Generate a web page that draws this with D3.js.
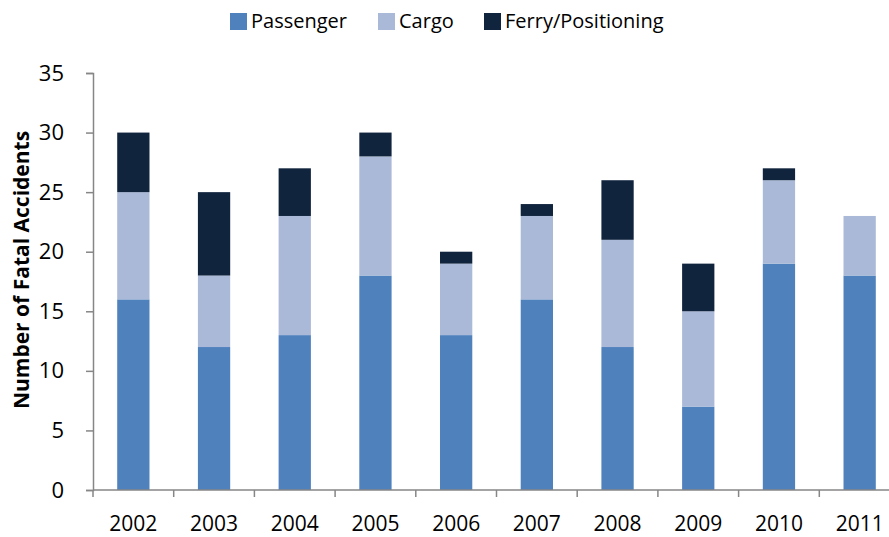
<!DOCTYPE html>
<html>
<head>
<meta charset="utf-8">
<script src="https://cdn.jsdelivr.net/npm/d3@7"></script>
<style>
  body { margin: 0; background: #fff; }
  svg { display: block; font-family: "Open Sans", sans-serif; }
</style>
</head>
<body>
<div id="chart"></div>
<script>
// Chart data
const years = ["2002", "2003", "2004", "2005", "2006", "2007", "2008", "2009", "2010", "2011"];
const passenger = [16, 12, 13, 18, 13, 16, 12, 7, 19, 18];
const cargo = [9, 6, 10, 10, 6, 7, 9, 8, 7, 5];
const ferry = [5, 7, 4, 2, 1, 1, 5, 4, 1, 0];
const seriesNames = ["Passenger", "Cargo", "Ferry/Positioning"];
const yTicks = [0, 5, 10, 15, 20, 25, 30, 35];

const colors = ["#4F81BD", "#AAB9D7", "#10243E"];

drawChart();

function drawChart() {
    const width = 889, height = 537;

    const svg = d3.select("#chart")
        .append("svg")
        .attr("width", width)
        .attr("height", height);

    // Build table for the stack
    const table = years.map((y, i) => ({
        year: y,
        "Passenger": passenger[i],
        "Cargo": cargo[i],
        "Ferry/Positioning": ferry[i]
    }));
    const stacked = d3.stack().keys(seriesNames)(table);

    // Scales
    const x = d3.scaleBand()
        .domain(years)
        .range([93, 900])
        .paddingInner(0.6)
        .paddingOuter(0.3);

    const y = d3.scaleLinear()
        .domain([0, 35])
        .range([490, 73]);

    // Bars
    svg.append("g")
        .selectAll("g")
        .data(stacked)
        .join("g")
        .attr("fill", (d, i) => colors[i])
        .selectAll("rect")
        .data(d => d)
        .join("rect")
        .attr("x", d => x(d.data.year))
        .attr("y", d => y(d[1]))
        .attr("width", x.bandwidth())
        .attr("height", d => y(d[0]) - y(d[1]));

    // Y axis
    const yAxis = svg.append("g")
        .attr("transform", "translate(93,0)")
        .call(d3.axisLeft(y).tickValues(yTicks).tickSize(7).tickPadding(22));
    yAxis.select(".domain").attr("stroke", "#868686").attr("stroke-width", 1.5);
    yAxis.selectAll(".tick line").attr("stroke", "#868686").attr("stroke-width", 1.5);
    yAxis.selectAll("text")
        .attr("font-size", 22)
        .attr("fill", "#000")
        .attr("font-family", "'Open Sans', sans-serif");

    // X axis: ticks sit at band edges, labels at band centres
    const xAxisG = svg.append("g").attr("transform", "translate(0,490)");
    xAxisG.append("line")
        .attr("x1", 93).attr("x2", 900)
        .attr("stroke", "#868686").attr("stroke-width", 1.5);
    const step = x.step();
    const edgeScale = d3.scaleLinear().domain([0, years.length]).range([93, 93 + step * years.length]);
    xAxisG.selectAll(".xtick")
        .data(d3.range(years.length + 1))
        .join("line")
        .attr("class", "xtick")
        .attr("x1", d => edgeScale(d)).attr("x2", d => edgeScale(d))
        .attr("y1", 0).attr("y2", 7)
        .attr("stroke", "#868686").attr("stroke-width", 1.5);
    xAxisG.selectAll(".xlabel")
        .data(years)
        .join("text")
        .attr("class", "xlabel")
        .attr("x", (d, i) => edgeScale(i) + step / 2)
        .attr("y", 41)
        .attr("text-anchor", "middle")
        .attr("font-size", 21)
        .text(d => d);

    // Y axis title
    svg.append("text")
        .attr("transform", "translate(29,270) rotate(-90)")
        .attr("text-anchor", "middle")
        .attr("font-size", 21)
        .attr("font-weight", "bold")
        .text("Number of Fatal Accidents");

    // Legend
    const legendX = [230, 378, 484];
    const legend = svg.append("g");
    seriesNames.forEach((name, i) => {
        legend.append("rect")
            .attr("x", legendX[i]).attr("y", 13)
            .attr("width", 17).attr("height", 17)
            .attr("fill", colors[i]);
        legend.append("text")
            .attr("x", legendX[i] + 21).attr("y", 28)
            .attr("font-size", 20)
            .text(name);
    });
}
</script>
</body>
</html>
